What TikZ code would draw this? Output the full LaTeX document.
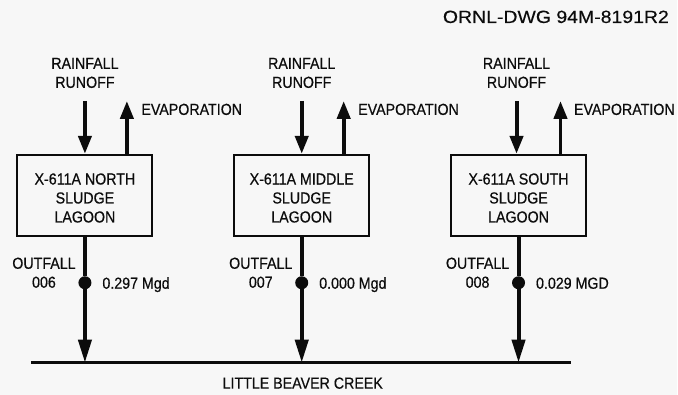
\documentclass[tikz,border=0pt]{standalone}
\usepackage{fontspec}
\setmainfont{Liberation Sans}[FakeStretch=0.89,FakeBold=0.45]
\newfontfamily\dwgfont{Liberation Sans}[FakeStretch=1.1,FakeBold=0.3]
\usetikzlibrary{arrows.meta}
\definecolor{PaperColor}{RGB}{247,247,247}
\definecolor{InkColor}{RGB}{12,12,12}

\begin{document}
\begin{tikzpicture}[x=1pt, y=-1pt, font=\fontsize{16}{19}\selectfont, InkColor,
    lagoon/.style={draw, line width=2pt, minimum width=135pt, minimum height=81pt, align=center, inner sep=0pt},
    lbl/.style={align=center, inner sep=0pt},
    flow/.style={line width=4pt, -{Triangle[length=18pt,width=13pt]}},
    outflow/.style={line width=4pt, -{Triangle[length=23pt,width=13pt]}},
    junction/.style={circle, fill=InkColor, inner sep=0pt, minimum size=13pt}]
      \fill[PaperColor] (0,0) rectangle (678,395);
      \node[anchor=base east, font=\dwgfont\fontsize{17.7}{20}\selectfont] (dwg) at (673,23) {ORNL-DWG 94M-8191R2};

      % lagoons
      \node[lagoon] (boxN) at (85,195.5) {\rule{0pt}{16.5pt}X-611A NORTH\\SLUDGE\\LAGOON};
      \node[lagoon] (boxM) at (302,195.5) {\rule{0pt}{16.5pt}X-611A MIDDLE\\SLUDGE\\LAGOON};
      \node[lagoon] (boxS) at (519,195.5) {\rule{0pt}{16.5pt}X-611A SOUTH\\SLUDGE\\LAGOON};

      % rainfall in, evaporation out
      \node[lbl] (rainN) at (85,73) {RAINFALL\\RUNOFF};
      \node[lbl] (rainM) at (302,73) {RAINFALL\\RUNOFF};
      \node[lbl] (rainS) at (517,73) {RAINFALL\\RUNOFF};
      \coordinate (inN) at (85,101);
      \coordinate (inM) at (302,101);
      \coordinate (inS) at (517,101);
      \draw[flow] (inN) -- (inN |- boxN.north);
      \draw[flow] (inM) -- (inM |- boxM.north);
      \draw[flow] (inS) -- (inS |- boxS.north);
      \coordinate (upN) at (127,101);
      \coordinate (upM) at (344,101);
      \coordinate (upS) at (561,101);
      \draw[flow] (upN |- boxN.north) -- (upN);
      \draw[flow] (upM |- boxM.north) -- (upM);
      \draw[flow] (upS |- boxS.north) -- (upS);
      \node[anchor=base west] (evapN) at (138,115) {EVAPORATION};
      \node[anchor=base west] (evapM) at (355,115) {EVAPORATION};
      \node[anchor=base west] (evapS) at (571,115) {EVAPORATION};

      % creek
      \coordinate (creekW) at (31,363);
      \coordinate (creekE) at (572,363);
      \draw[line width=3.5pt] (creekW) -- (creekE);
      \node[anchor=base] (creek) at (303,389) {LITTLE BEAVER CREEK};

      % outfalls
      \node[junction] (jN) at (85,283) {};
      \node[junction] (jM) at (302,283) {};
      \node[junction] (jS) at (519,283) {};
      \draw[line width=4pt] (boxN.south) -- (jN);
      \draw[line width=4pt] (boxM.south) -- (jM);
      \draw[line width=4pt] (boxS.south) -- (jS);
      \draw[outflow] (jN) -- (jN |- creekW);
      \draw[outflow] (jM) -- (jM |- creekW);
      \draw[outflow] (jS) -- (jS |- creekW);
      \node[lbl] (ofN) at (44,273) {OUTFALL\\006};
      \node[lbl] (ofM) at (261,273) {OUTFALL\\007};
      \node[lbl] (ofS) at (478,273) {OUTFALL\\008};
      \node[anchor=base west] (qN) at (99,289) {0.297 Mgd};
      \node[anchor=base west] (qM) at (316,289) {0.000 Mgd};
      \node[anchor=base west] (qS) at (533,289) {0.029 MGD};
    \end{tikzpicture}
\end{document}
